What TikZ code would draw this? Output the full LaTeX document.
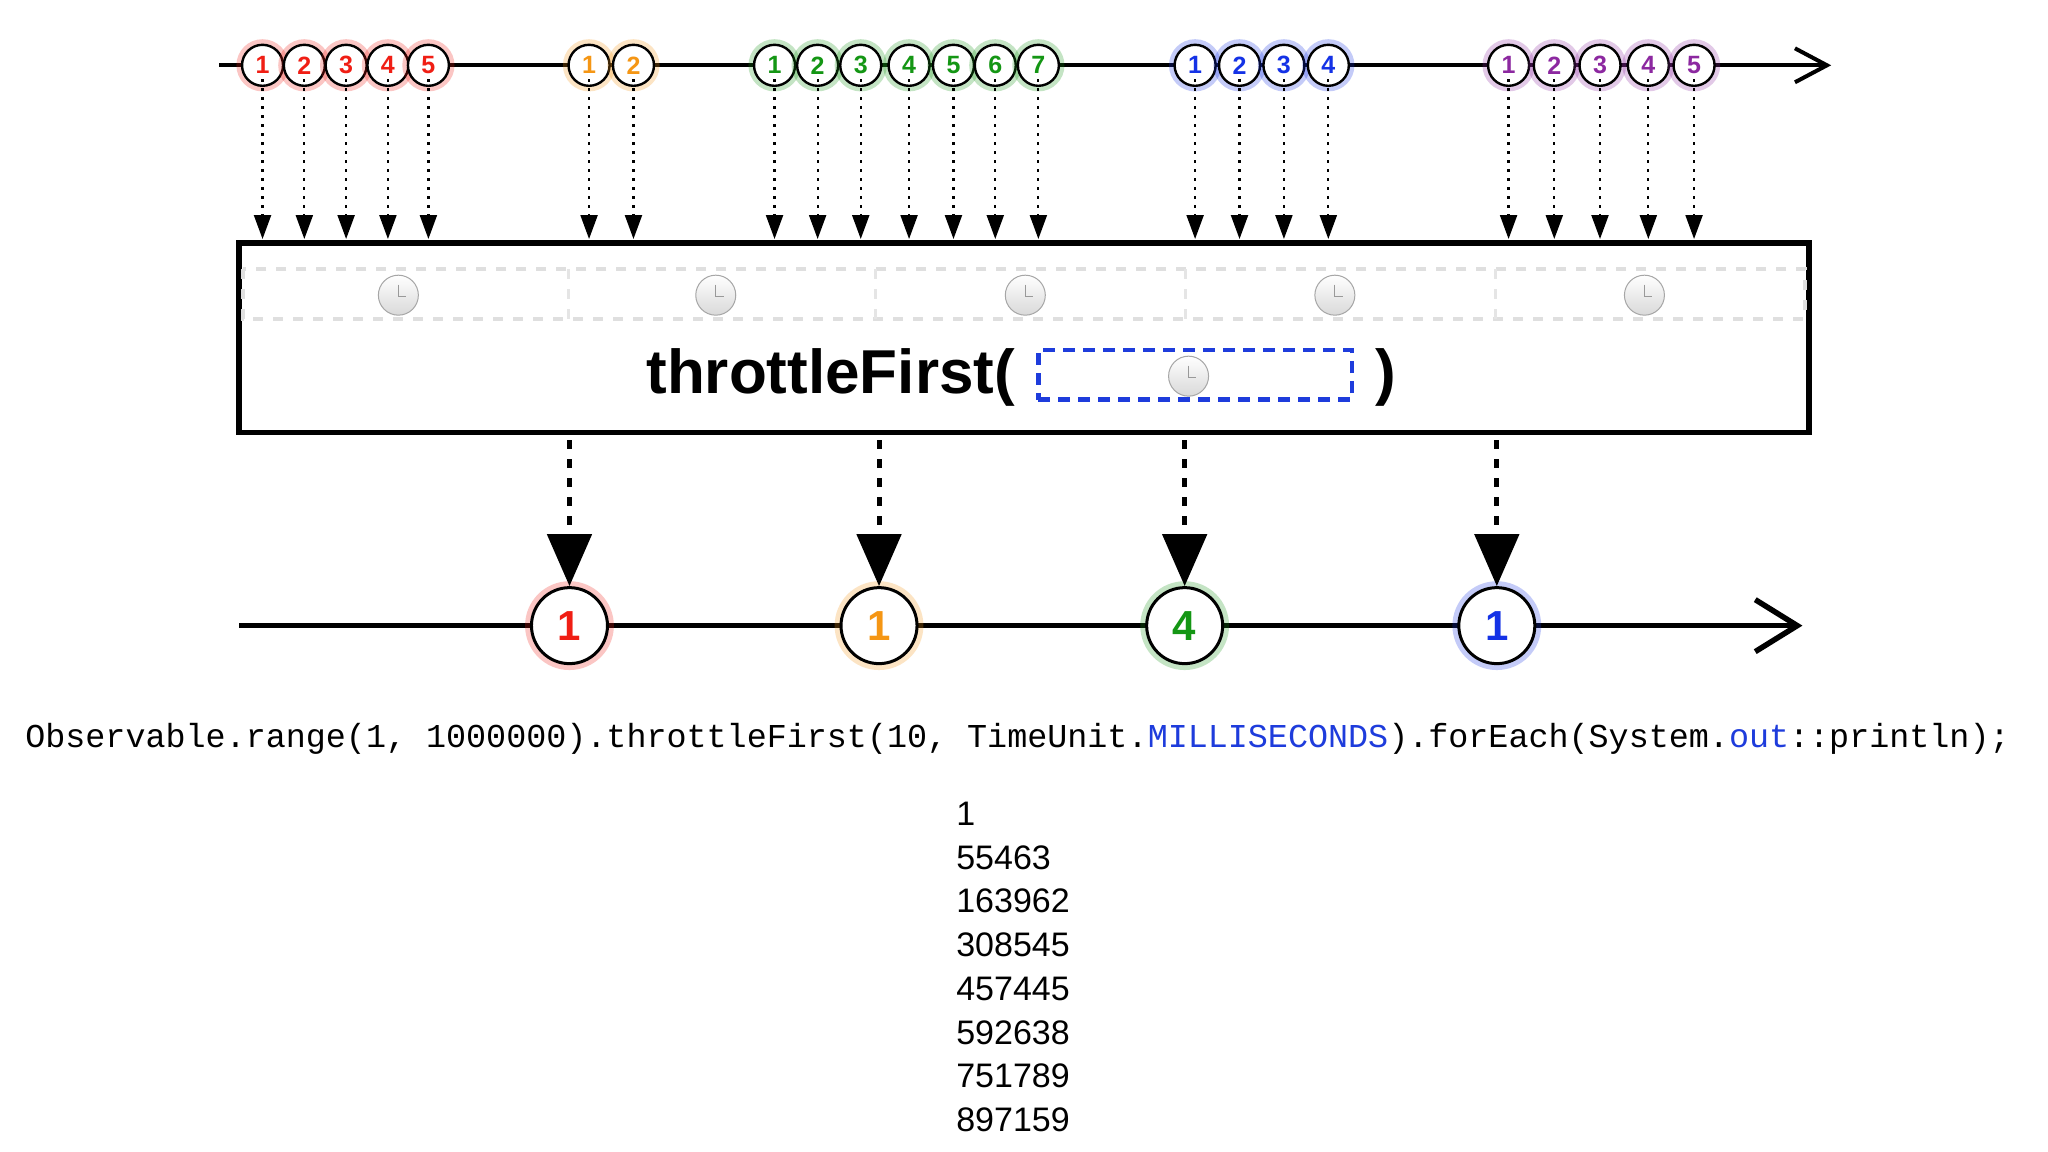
\documentclass[tikz,border=0pt]{standalone}
\usepackage{fontspec}
\setmainfont{Liberation Sans}
\setmonofont{Liberation Mono}
\usetikzlibrary{arrows.meta}
\definecolor{mred}{RGB}{240,30,20}
\definecolor{morange}{RGB}{245,150,20}
\definecolor{mgreen}{RGB}{20,150,20}
\definecolor{mblue}{RGB}{20,50,230}
\definecolor{mpurple}{RGB}{140,40,160}
\definecolor{codeblue}{RGB}{30,60,220}
\tikzset{
  smarble/.style={circle,draw=black,line width=2.4pt,fill=white,minimum size=41pt,inner sep=0pt,font=\fontsize{25}{25}\bfseries},
  bmarble/.style={circle,draw=black,line width=3pt,fill=white,minimum size=76pt,inner sep=0pt,font=\fontsize{42}{42}\bfseries},
  inarrow/.style={dash pattern=on 3pt off 6pt,line width=2.2pt,-{Triangle[width=17pt,length=24pt]}},
  outarrow/.style={dash pattern=on 9pt off 10pt,line width=5pt,-{Triangle[width=44pt,length=52pt]}},
  clock/.style={circle,draw=gray!70,line width=1pt,top color=white,bottom color=gray!30,minimum size=40pt,inner sep=0pt},
  numtxt/.style={anchor=west,font=\fontsize{34}{34}\selectfont,inner sep=0pt},
}
\begin{document}
\begin{tikzpicture}[x=1.3061pt,y=-1.3061pt]
\useasboundingbox (0,0) rectangle (1568,882);
\fill[white] (0,0) rectangle (1568,882);
% top line
\coordinate (tl0) at (168,50); \coordinate (tl1) at (1402,50);
\draw[line width=4pt,-{Straight Barb[width=34pt,length=32pt,line width=4pt]}] (tl0) -- (tl1);
% box
\node[draw=black,line width=5.5pt,minimum width=1202*1.3061pt,minimum height=145*1.3061pt,inner sep=0pt] (box) at (784,258.5) {};
\draw[gray!25,line width=4pt,dash pattern=on 10pt off 10pt] (186,206) rectangle (1382,244);
\foreach \x in {435,670,908,1145}{\draw[gray!20,line width=3pt,dash pattern=on 10pt off 10pt] (\x,206)--(\x,244);}
\foreach \x [count=\i] in {305,548,785,1022,1259}{\node[clock] (clk\i) at (\x,226) {}; \draw[gray!80,line width=1pt] (\x,218)--(\x,227)--(\x+6,227);}
\node[font=\fontsize{62}{62}\bfseries,inner sep=0pt] (tf) at (636,289) {throttleFirst(};
\node[draw=codeblue,line width=4.5pt,dash pattern=on 12pt off 8pt,minimum width=240*1.3061pt,minimum height=38*1.3061pt,inner sep=0pt] (blk) at (915,287) {};
\node[clock] (clk0) at (910,288) {}; \draw[gray!80,line width=1pt] (910,280)--(910,289)--(916,289);
\node[font=\fontsize{62}{62}\bfseries,inner sep=0pt] (rp) at (1061,289) {)};
% top marbles
\def\mk#1#2#3{\fill[#2,opacity=0.25] (#1,50) circle (20);\node[smarble,text=#2] (m#1) at (#1,50) {#3};
  \coordinate (a#1) at (#1,183); \draw[inarrow] (m#1.south) ++(0,8pt) -- (a#1);}
\mk{201}{mred}{1}\mk{233}{mred}{2}\mk{265}{mred}{3}\mk{297}{mred}{4}\mk{328}{mred}{5}
\mk{451}{morange}{1}\mk{485}{morange}{2}
\mk{593}{mgreen}{1}\mk{626}{mgreen}{2}\mk{659}{mgreen}{3}\mk{696}{mgreen}{4}\mk{730}{mgreen}{5}\mk{762}{mgreen}{6}\mk{795}{mgreen}{7}
\mk{915}{mblue}{1}\mk{949}{mblue}{2}\mk{983}{mblue}{3}\mk{1017}{mblue}{4}
\mk{1155}{mpurple}{1}\mk{1190}{mpurple}{2}\mk{1225}{mpurple}{3}\mk{1262}{mpurple}{4}\mk{1297}{mpurple}{5}
% bottom line
\coordinate (bl0) at (183,479); \coordinate (bl1) at (1380,479);
\draw[line width=5.5pt,-{Straight Barb[width=52pt,length=42pt,line width=5.5pt]}] (bl0) -- (bl1);
\def\bm#1#2#3{\fill[#2,opacity=0.25] (#1,479) circle (34);\node[bmarble,text=#2] (o#1) at (#1,479) {#3};
  \coordinate (s#1) at (#1,337); \draw[outarrow] (s#1) -- (o#1.north);}
\bm{436}{mred}{1}\bm{673}{morange}{1}\bm{907}{mgreen}{4}\bm{1146}{mblue}{1}
% code
\node[font=\ttfamily\fontsize{33.4}{33.4}\selectfont,inner sep=0pt] (code) at (779,566) {Observable.range(1, 1000000).throttleFirst(10, TimeUnit.\textcolor{codeblue}{MILLISECONDS}).forEach(System.\textcolor{codeblue}{out}::println);};
\foreach \v [count=\i] in {1,55463,163962,308545,457445,592638,751789,897159}{\node[numtxt] (n\i) at (732,623+33.5*\i-33.5) {\v};}
\end{tikzpicture}
\end{document}
